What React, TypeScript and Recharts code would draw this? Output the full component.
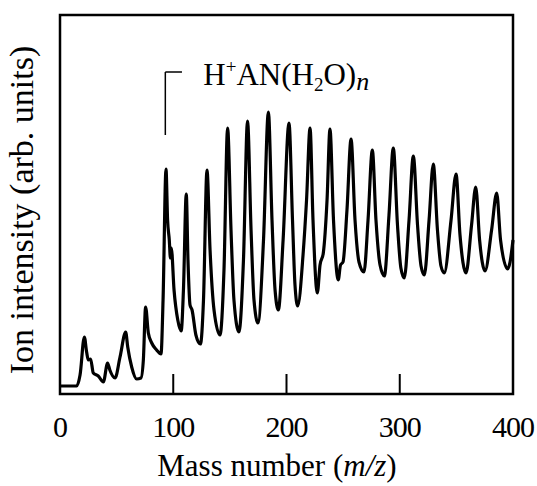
import { LineChart, Line, XAxis, YAxis, ReferenceArea, ReferenceLine } from "recharts";

// m/z positions and intensities
const massNumbers = [
  0, 14.7, 17.7, 21.5, 23.5, 25, 27, 29.4, 33.8, 38.3, 42, 44, 48.6, 53, 58, 59.8, 63.3, 67.7,
  71.5, 73.6, 75.6, 78, 81, 85.3, 89.2, 91, 93.6, 95, 96.5, 97.5, 98.3, 100.7, 104, 107, 109,
  111.5, 113, 114.8, 116.6, 120, 124, 126.7, 129.8, 132.5, 136, 141.3, 144.8, 148, 151, 153.6,
  158, 162, 165.6, 168.7, 171.3, 174.8, 179.7, 184, 187.2, 189.9, 192.8, 197, 202.2, 205.3,
  207.5, 209.9, 214.6, 217.7, 220.8, 223.4, 227.2, 229.6, 232.5, 235.8, 238.4, 241.5, 245.7,
  247.7, 249.9, 253.4, 257, 260.5, 264, 268.4, 272, 275.8, 279, 282.6, 286.4, 290.5, 294.3,
  298, 301, 304, 308.2, 312, 315.7, 318.8, 321.7, 325.9, 329.6, 333.3, 336.4, 339.3, 345.3,
  349.7, 353.2, 358.5, 363.4, 367.1, 370.5, 375.3, 381.1, 385.6, 389, 395.3, 397.4, 400,
];
const intensities = [
  8, 8, 19, 57, 42, 34, 35, 21, 18, 12, 31, 24, 16, 37, 62, 47, 27, 15,
  16, 34, 87, 61, 51, 44, 40, 94, 225, 174, 154, 136, 146, 104, 74, 63, 104,
  200, 134, 89, 84, 59, 50, 94, 224, 144, 84, 59, 124, 266, 164, 94,
  62, 134, 273, 164, 94, 71, 154, 282, 174, 104, 84, 154, 271, 174,
  109, 88, 139, 194, 266, 174, 101, 129, 141, 194, 265, 174, 114,
  129, 132, 184, 255, 174, 132, 122, 174, 244, 174, 129, 118, 179, 246,
  169, 126, 116, 174, 238, 169, 128, 119, 174, 230, 164, 128, 121, 174,
  220, 159, 121, 169, 207, 154, 123, 164, 201, 154, 125, 132, 154,
];
const xTicks = [0, 100, 200, 300, 400];

const data = massNumbers.map((mz, i) => ({ mz, value: intensities[i] }));

const font = "'Liberation Serif', 'Times New Roman', serif";

function BottomTick({ x, y, payload }: any) {
  const v = payload.value;
  return (
    <g>
      {v !== 0 && v !== 400 && (
        <line x1={x} x2={x} y1={y} y2={y - 20} stroke="#000" strokeWidth={2} />
      )}
      <text x={x} y={y + 43} textAnchor="middle" fontFamily={font} fontSize={30} letterSpacing={-1} fill="#000">
        {v}
      </text>
    </g>
  );
}

function XTitle() {
  return (
    <text x={277} y={476} textAnchor="middle" fontFamily={font} fontSize={31} fill="#000">
      Mass number (<tspan fontStyle="italic">m/z</tspan>)
    </text>
  );
}

function YTitle() {
  return (
    <text
      x={21}
      y={210}
      transform="rotate(-90, 21, 210)"
      textAnchor="middle"
      dominantBaseline="central"
      fontFamily={font}
      fontSize={34}
      fill="#000"
    >
      Ion intensity (arb. units)
    </text>
  );
}

function SeriesLabel({ viewBox }: any) {
  const x = viewBox.x + 38;
  const y = viewBox.y + 13;
  return (
    <text x={x} y={y} fontFamily={font} fontSize={31} fill="#000">
      H<tspan fontSize={19} dy={-12}>+</tspan>
      <tspan dy={12}>AN(H</tspan>
      <tspan fontSize={19} dy={6}>2</tspan>
      <tspan dy={-6}>O)</tspan>
      <tspan fontSize={26} fontStyle="italic" dy={5}>n</tspan>
    </text>
  );
}

export default function App() {
  return (
    <div style={{ position: "absolute", left: 0, top: 0, background: "#fff" }}>
      <LineChart width={537} height={486} data={data} margin={{ top: 15, right: 24, left: 0, bottom: 0 }}>
        <XAxis
          dataKey="mz"
          type="number"
          domain={[0, 400]}
          ticks={xTicks}
          axisLine={false}
          tickLine={false}
          tickSize={0}
          tickMargin={0}
          height={92}
          tick={<BottomTick />}
          label={<XTitle />}
        />
        <YAxis
          type="number"
          domain={[0, 379]}
          width={60}
          tick={false}
          tickLine={false}
          axisLine={false}
          label={<YTitle />}
        />
        <ReferenceArea x1={0} x2={400} y1={0} y2={379} fill="none" stroke="#000" strokeWidth={2.5} ifOverflow="visible" />
        <ReferenceLine
          segment={[{ x: 93, y: 259 }, { x: 93, y: 322 }]}
          stroke="#000"
          strokeWidth={1.5}
        />
        <ReferenceLine
          segment={[{ x: 93, y: 322 }, { x: 107.7, y: 322 }]}
          stroke="#000"
          strokeWidth={1.5}
          label={<SeriesLabel />}
        />
        <Line
          type="monotone"
          dataKey="value"
          stroke="#000"
          strokeWidth={3.2}
          strokeLinejoin="round"
          dot={false}
          isAnimationActive={false}
        />
      </LineChart>
    </div>
  );
}
